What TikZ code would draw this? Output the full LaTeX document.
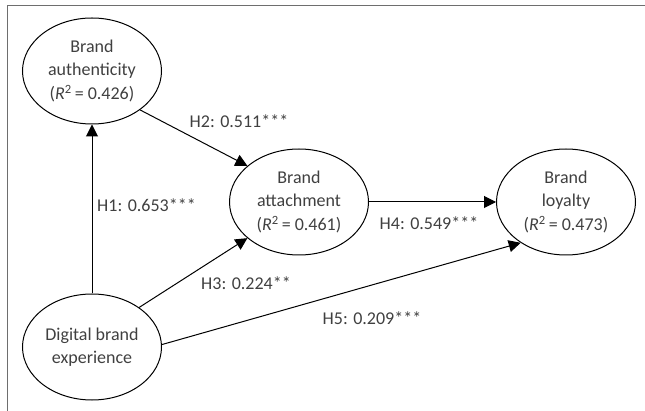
\documentclass[tikz,border=0pt]{standalone}
\usepackage{fontspec}
\setmainfont{Carlito}
\usetikzlibrary{shapes.geometric,arrows.meta}
\definecolor{txtgray}{HTML}{404040}
\definecolor{framegray}{HTML}{6E6E6E}
\tikzset{
  construct/.style={ellipse,draw,line width=1pt,minimum width=139pt,minimum height=106pt,inner sep=0pt,align=center,text=txtgray,font=\fontsize{18}{23.5}\selectfont},
  pathlabel/.style={text=txtgray,font=\fontsize{18}{22}\selectfont,inner sep=0pt},
  path arrow/.style={line width=1pt,-{Triangle[length=12pt,width=12pt]}}
}
\newcommand{\rsq}[1]{(\textit{R}\textsuperscript{2}\,= #1)}
\begin{document}
\begin{tikzpicture}[x=1pt,y=-1pt]
\useasboundingbox (0,0) rectangle (645,411);
\draw[framegray,line width=1.5pt] (7.5,411) -- (7.5,5.5) -- (645,5.5);
\node[construct] (auth) at (92,71) {Brand\\authenticity\\\rsq{0.426}};
\node[construct] (att) at (299,202) {Brand\\attachment\\\rsq{0.461}};
\node[construct] (loy) at (566,202) {Brand\\loyalty\\\rsq{0.473}};
\node[construct] (exp) at (92,347) {Digital brand\\experience};
\draw[path arrow] (exp) -- (auth);
\draw[path arrow] (auth.-39) -- (att.145);
\draw[path arrow] (exp.40) -- (att.215);
\draw[path arrow] (att) -- (loy);
\draw[path arrow] (exp.2) -- (loy.222);
\node[pathlabel,anchor=west] (l1) at (97,205) {H1: 0.653***};
\node[pathlabel] (l2) at (239,121) {H2: 0.511***};
\node[pathlabel] (l3) at (246,283) {H3: 0.224**};
\node[pathlabel] (l4) at (429,223) {H4: 0.549***};
\node[pathlabel] (l5) at (372,318) {H5: 0.209***};
\end{tikzpicture}
\end{document}
